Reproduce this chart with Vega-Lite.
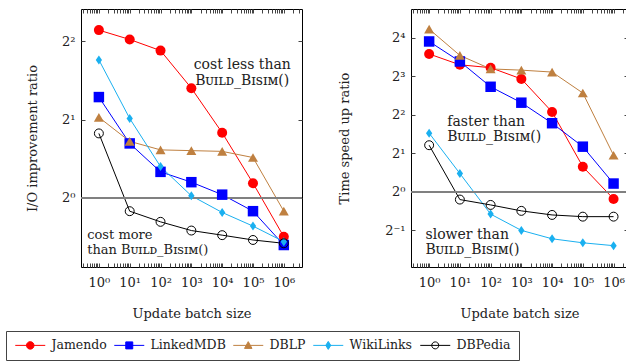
{
  "$schema": "https://vega.github.io/schema/vega-lite/v6.json",
  "padding": {"left": 5, "top": 8, "right": 0, "bottom": 0},
  "config": {
    "font": "DejaVu Serif, Liberation Serif",
    "text": {"font": "DejaVu Serif, Liberation Serif"},
    "view": {"stroke": "#000", "strokeWidth": 1},
    "axis": {"labelFont": "DejaVu Serif, Liberation Serif", "titleFont": "DejaVu Serif, Liberation Serif", "labelFontSize": 13, "titleFontSize": 13, "titleFontWeight": "normal", "labelColor": "#222", "titleColor": "#222", "tickColor": "#444", "domain": false, "grid": false, "tickSize": -4, "labelOverlap": false, "labelFlush": false},
    "legend": {"labelFont": "DejaVu Serif, Liberation Serif", "labelFontSize": 12.5, "labelColor": "#222"}
  },
  "datasets": {
    "io": [
      {"series": "Jamendo", "batch": 1, "ratio": 4.41}, {"series": "Jamendo", "batch": 10, "ratio": 4.06}, {"series": "Jamendo", "batch": 100, "ratio": 3.68}, {"series": "Jamendo", "batch": 1000, "ratio": 2.64}, {"series": "Jamendo", "batch": 10000, "ratio": 1.78}, {"series": "Jamendo", "batch": 100000, "ratio": 1.14}, {"series": "Jamendo", "batch": 1000000, "ratio": 0.71},
      {"series": "LinkedMDB", "batch": 1, "ratio": 2.44}, {"series": "LinkedMDB", "batch": 10, "ratio": 1.62}, {"series": "LinkedMDB", "batch": 100, "ratio": 1.26}, {"series": "LinkedMDB", "batch": 1000, "ratio": 1.15}, {"series": "LinkedMDB", "batch": 10000, "ratio": 1.03}, {"series": "LinkedMDB", "batch": 100000, "ratio": 0.89}, {"series": "LinkedMDB", "batch": 1000000, "ratio": 0.66},
      {"series": "DBLP", "batch": 1, "ratio": 2.04}, {"series": "DBLP", "batch": 10, "ratio": 1.65}, {"series": "DBLP", "batch": 100, "ratio": 1.53}, {"series": "DBLP", "batch": 1000, "ratio": 1.52}, {"series": "DBLP", "batch": 10000, "ratio": 1.51}, {"series": "DBLP", "batch": 100000, "ratio": 1.43}, {"series": "DBLP", "batch": 1000000, "ratio": 0.89},
      {"series": "WikiLinks", "batch": 1, "ratio": 3.39}, {"series": "WikiLinks", "batch": 10, "ratio": 2.02}, {"series": "WikiLinks", "batch": 100, "ratio": 1.32}, {"series": "WikiLinks", "batch": 1000, "ratio": 1.02}, {"series": "WikiLinks", "batch": 10000, "ratio": 0.88}, {"series": "WikiLinks", "batch": 100000, "ratio": 0.78}, {"series": "WikiLinks", "batch": 1000000, "ratio": 0.68},
      {"series": "DBPedia", "batch": 1, "ratio": 1.77}, {"series": "DBPedia", "batch": 10, "ratio": 0.89}, {"series": "DBPedia", "batch": 100, "ratio": 0.81}, {"series": "DBPedia", "batch": 1000, "ratio": 0.75}, {"series": "DBPedia", "batch": 10000, "ratio": 0.72}, {"series": "DBPedia", "batch": 100000, "ratio": 0.69}, {"series": "DBPedia", "batch": 1000000, "ratio": 0.67}
    ],
    "time": [
      {"series": "Jamendo", "batch": 1, "ratio": 11.9}, {"series": "Jamendo", "batch": 10, "ratio": 9.8}, {"series": "Jamendo", "batch": 100, "ratio": 9.3}, {"series": "Jamendo", "batch": 1000, "ratio": 7.6}, {"series": "Jamendo", "batch": 10000, "ratio": 4.2}, {"series": "Jamendo", "batch": 100000, "ratio": 1.57}, {"series": "Jamendo", "batch": 1000000, "ratio": 0.88},
      {"series": "LinkedMDB", "batch": 1, "ratio": 14.9}, {"series": "LinkedMDB", "batch": 10, "ratio": 10.4}, {"series": "LinkedMDB", "batch": 100, "ratio": 6.6}, {"series": "LinkedMDB", "batch": 1000, "ratio": 4.96}, {"series": "LinkedMDB", "batch": 10000, "ratio": 3.43}, {"series": "LinkedMDB", "batch": 100000, "ratio": 2.25}, {"series": "LinkedMDB", "batch": 1000000, "ratio": 1.16},
      {"series": "DBLP", "batch": 1, "ratio": 18.6}, {"series": "DBLP", "batch": 10, "ratio": 11.6}, {"series": "DBLP", "batch": 100, "ratio": 9.1}, {"series": "DBLP", "batch": 1000, "ratio": 8.9}, {"series": "DBLP", "batch": 10000, "ratio": 8.6}, {"series": "DBLP", "batch": 100000, "ratio": 5.9}, {"series": "DBLP", "batch": 1000000, "ratio": 1.93},
      {"series": "WikiLinks", "batch": 1, "ratio": 2.87}, {"series": "WikiLinks", "batch": 10, "ratio": 1.39}, {"series": "WikiLinks", "batch": 100, "ratio": 0.67}, {"series": "WikiLinks", "batch": 1000, "ratio": 0.5}, {"series": "WikiLinks", "batch": 10000, "ratio": 0.43}, {"series": "WikiLinks", "batch": 100000, "ratio": 0.40}, {"series": "WikiLinks", "batch": 1000000, "ratio": 0.38},
      {"series": "DBPedia", "batch": 1, "ratio": 2.31}, {"series": "DBPedia", "batch": 10, "ratio": 0.87}, {"series": "DBPedia", "batch": 100, "ratio": 0.79}, {"series": "DBPedia", "batch": 1000, "ratio": 0.71}, {"series": "DBPedia", "batch": 10000, "ratio": 0.66}, {"series": "DBPedia", "batch": 100000, "ratio": 0.64}, {"series": "DBPedia", "batch": 1000000, "ratio": 0.64}
    ],
    "io_ann_center": [
      {"label": "cost less than", "x": 45000, "y": 3.23},
      {"label": "Bᴜɪʟᴅ_Bɪsɪᴍ()", "x": 45000, "y": 2.81}
    ],
    "io_ann_left": [
      {"label": "cost more", "x": 0.42, "y": 0.72},
      {"label": "than Bᴜɪʟᴅ_Bɪsɪᴍ()", "x": 0.42, "y": 0.63}
    ],
    "time_ann_left": [
      {"label": "faster than", "x": 3.9, "y": 3.53},
      {"label": "Bᴜɪʟᴅ_Bɪsɪᴍ()", "x": 3.9, "y": 2.69},
      {"label": "slower than", "x": 0.76, "y": 0.46},
      {"label": "Bᴜɪʟᴅ_Bɪsɪᴍ()", "x": 0.76, "y": 0.35}
    ]
  },
  "hconcat": [
    {
      "width": 221,
      "height": 258,
      "resolve": {"axis": {"x": "independent", "y": "independent"}},
      "layer": [
        {
          "data": {"name": "io"},
          "mark": {"type": "line", "strokeWidth": 1},
          "encoding": {
            "x": {"field": "batch", "type": "quantitative", "scale": {"type": "log", "domain": [0.263, 3890000], "nice": false},
              "axis": {"orient": "bottom", "title": "Update batch size", "titlePadding": 18, "labelPadding": 13,
                "values": [0.3,0.4,0.5,0.6,0.7,0.8,0.9,1,2,3,4,5,6,7,8,9,10,20,30,40,50,60,70,80,90,100,200,300,400,500,600,700,800,900,1000,2000,3000,4000,5000,6000,7000,8000,9000,10000,20000,30000,40000,50000,60000,70000,80000,90000,100000,200000,300000,400000,500000,600000,700000,800000,900000,1000000,2000000,3000000],
                "labelExpr": "datum.value==1?'10⁰':datum.value==10?'10¹':datum.value==100?'10²':datum.value==1000?'10³':datum.value==10000?'10⁴':datum.value==100000?'10⁵':datum.value==1000000?'10⁶':''"}},
            "y": {"field": "ratio", "type": "quantitative", "scale": {"type": "log", "base": 2, "domain": [0.5434, 5.315], "nice": false},
              "axis": {"orient": "left", "title": "I/O improvement ratio", "values": [1, 2, 4], "labelPadding": 10, "titlePadding": 22,
                "labelExpr": "datum.value==1?'2⁰':datum.value==2?'2¹':'2²'"}},
            "color": {"field": "series", "type": "nominal",
              "scale": {"domain": ["Jamendo", "LinkedMDB", "DBLP", "WikiLinks", "DBPedia"], "range": ["#ff0000", "#0000ff", "#bf8040", "#1ab0f0", "#000000"]},
              "legend": {"orient": "none", "legendX": -75, "legendY": 322, "direction": "horizontal", "title": null, "symbolSize": 100, "symbolStrokeWidth": 1, "symbolOpacity": 1, "labelOffset": 25, "columnPadding": 5, "padding": 8, "strokeColor": "#444"}}
          }
        },
        {
          "data": {"name": "io"},
          "mark": {"type": "rule", "color": "#808080", "strokeWidth": 1},
          "encoding": {"y": {"datum": 1, "axis": null}}
        },
        {
          "data": {"name": "io"},
          "transform": [{"filter": "datum.batch < 0"}],
          "mark": {"type": "point", "filled": false, "strokeWidth": 1, "opacity": 1, "fillOpacity": 1, "strokeOpacity": 1},
          "encoding": {
            "color": {"field": "series", "type": "nominal"},
            "shape": {"field": "series", "type": "nominal", "scale": {"domain": ["Jamendo", "LinkedMDB", "DBLP", "WikiLinks", "DBPedia"], "range": ["M-1,0H5M2.75,0A0.75,0.75,0,1,1,1.25,0A0.75,0.75,0,1,1,2.75,0Z", "M-1,0H5M1.3,-0.7H2.7V0.7H1.3Z", "M-1,0H5M2,-0.75L2.75,0.6H1.25Z", "M-1,0H5M2,-0.8L2.5,0L2,0.8L1.5,0Z", "M-1,0H5M2.7,0A0.7,0.7,0,1,1,1.3,0A0.7,0.7,0,1,1,2.7,0Z"]}},
            "fill": {"field": "series", "type": "nominal", "scale": {"domain": ["Jamendo", "LinkedMDB", "DBLP", "WikiLinks", "DBPedia"], "range": ["#ff0000", "#0000ff", "#bf8040", "#1ab0f0", "transparent"]}}
          }
        },
        {
          "data": {"name": "io"},
          "transform": [{"filter": "datum.series == 'Jamendo'"}],
          "mark": {"type": "point", "shape": "circle", "filled": true, "color": "#ff0000", "size": 100, "opacity": 1},
          "encoding": {"x": {"field": "batch", "type": "quantitative", "axis": null}, "y": {"field": "ratio", "type": "quantitative", "axis": null}}
        },
        {
          "data": {"name": "io"},
          "transform": [{"filter": "datum.series == 'LinkedMDB'"}],
          "mark": {"type": "point", "shape": "square", "filled": true, "color": "#0000ff", "size": 110, "opacity": 1},
          "encoding": {"x": {"field": "batch", "type": "quantitative", "axis": null}, "y": {"field": "ratio", "type": "quantitative", "axis": null}}
        },
        {
          "data": {"name": "io"},
          "transform": [{"filter": "datum.series == 'DBLP'"}],
          "mark": {"type": "point", "shape": "triangle-up", "filled": true, "color": "#bf8040", "size": 100, "opacity": 1},
          "encoding": {"x": {"field": "batch", "type": "quantitative", "axis": null}, "y": {"field": "ratio", "type": "quantitative", "axis": null}}
        },
        {
          "data": {"name": "io"},
          "transform": [{"filter": "datum.series == 'WikiLinks'"}],
          "mark": {"type": "point", "shape": "M0,-1L0.7,0L0,1L-0.7,0Z", "filled": true, "color": "#1ab0f0", "size": 81, "opacity": 1},
          "encoding": {"x": {"field": "batch", "type": "quantitative", "axis": null}, "y": {"field": "ratio", "type": "quantitative", "axis": null}}
        },
        {
          "data": {"name": "io"},
          "transform": [{"filter": "datum.series == 'DBPedia'"}],
          "mark": {"type": "point", "shape": "circle", "filled": false, "color": "#000000", "strokeWidth": 1, "size": 80, "opacity": 1},
          "encoding": {"x": {"field": "batch", "type": "quantitative", "axis": null}, "y": {"field": "ratio", "type": "quantitative", "axis": null}}
        },
        {
          "data": {"name": "io_ann_center"},
          "mark": {"type": "text", "align": "center", "baseline": "middle", "fontSize": 14, "color": "#222"},
          "encoding": {
            "x": {"field": "x", "type": "quantitative", "axis": {"orient": "top", "labels": false, "title": null, "values": [0.3,0.4,0.5,0.6,0.7,0.8,0.9,1,2,3,4,5,6,7,8,9,10,20,30,40,50,60,70,80,90,100,200,300,400,500,600,700,800,900,1000,2000,3000,4000,5000,6000,7000,8000,9000,10000,20000,30000,40000,50000,60000,70000,80000,90000,100000,200000,300000,400000,500000,600000,700000,800000,900000,1000000,2000000,3000000]}},
            "y": {"field": "y", "type": "quantitative", "axis": {"orient": "right", "labels": false, "title": null, "values": [1, 2, 4]}},
            "text": {"field": "label"}
          }
        },
        {
          "data": {"name": "io_ann_left"},
          "mark": {"type": "text", "align": "left", "baseline": "middle", "fontSize": 13, "color": "#222"},
          "encoding": {
            "x": {"field": "x", "type": "quantitative", "axis": null},
            "y": {"field": "y", "type": "quantitative", "axis": null},
            "text": {"field": "label"}
          }
        }
      ]
    },
    {
      "width": 217,
      "height": 258,
      "resolve": {"axis": {"x": "independent", "y": "independent"}},
      "layer": [
        {
          "data": {"name": "time"},
          "mark": {"type": "line", "strokeWidth": 1},
          "encoding": {
            "x": {"field": "batch", "type": "quantitative", "scale": {"type": "log", "domain": [0.257, 2950000], "nice": false},
              "axis": {"orient": "bottom", "title": "Update batch size", "titlePadding": 18, "labelPadding": 13,
                "values": [0.3,0.4,0.5,0.6,0.7,0.8,0.9,1,2,3,4,5,6,7,8,9,10,20,30,40,50,60,70,80,90,100,200,300,400,500,600,700,800,900,1000,2000,3000,4000,5000,6000,7000,8000,9000,10000,20000,30000,40000,50000,60000,70000,80000,90000,100000,200000,300000,400000,500000,600000,700000,800000,900000,1000000,2000000],
                "labelExpr": "datum.value==1?'10⁰':datum.value==10?'10¹':datum.value==100?'10²':datum.value==1000?'10³':datum.value==10000?'10⁴':datum.value==100000?'10⁵':datum.value==1000000?'10⁶':''"}},
            "y": {"field": "ratio", "type": "quantitative", "scale": {"type": "log", "base": 2, "domain": [0.259, 26.7], "nice": false},
              "axis": {"orient": "left", "title": "Time speed up ratio", "values": [0.5, 1, 2, 4, 8, 16], "labelPadding": 10, "titlePadding": 33,
                "labelExpr": "datum.value==0.5?'2⁻¹':datum.value==1?'2⁰':datum.value==2?'2¹':datum.value==4?'2²':datum.value==8?'2³':'2⁴'"}},
            "color": {"field": "series", "type": "nominal"}
          }
        },
        {
          "data": {"name": "time"},
          "mark": {"type": "rule", "color": "#808080", "strokeWidth": 1},
          "encoding": {"y": {"datum": 1, "axis": null}}
        },
        {
          "data": {"name": "time"},
          "transform": [{"filter": "datum.series == 'Jamendo'"}],
          "mark": {"type": "point", "shape": "circle", "filled": true, "color": "#ff0000", "size": 100, "opacity": 1},
          "encoding": {"x": {"field": "batch", "type": "quantitative", "axis": null}, "y": {"field": "ratio", "type": "quantitative", "axis": null}}
        },
        {
          "data": {"name": "time"},
          "transform": [{"filter": "datum.series == 'LinkedMDB'"}],
          "mark": {"type": "point", "shape": "square", "filled": true, "color": "#0000ff", "size": 110, "opacity": 1},
          "encoding": {"x": {"field": "batch", "type": "quantitative", "axis": null}, "y": {"field": "ratio", "type": "quantitative", "axis": null}}
        },
        {
          "data": {"name": "time"},
          "transform": [{"filter": "datum.series == 'DBLP'"}],
          "mark": {"type": "point", "shape": "triangle-up", "filled": true, "color": "#bf8040", "size": 100, "opacity": 1},
          "encoding": {"x": {"field": "batch", "type": "quantitative", "axis": null}, "y": {"field": "ratio", "type": "quantitative", "axis": null}}
        },
        {
          "data": {"name": "time"},
          "transform": [{"filter": "datum.series == 'WikiLinks'"}],
          "mark": {"type": "point", "shape": "M0,-1L0.7,0L0,1L-0.7,0Z", "filled": true, "color": "#1ab0f0", "size": 81, "opacity": 1},
          "encoding": {"x": {"field": "batch", "type": "quantitative", "axis": null}, "y": {"field": "ratio", "type": "quantitative", "axis": null}}
        },
        {
          "data": {"name": "time"},
          "transform": [{"filter": "datum.series == 'DBPedia'"}],
          "mark": {"type": "point", "shape": "circle", "filled": false, "color": "#000000", "strokeWidth": 1, "size": 80, "opacity": 1},
          "encoding": {"x": {"field": "batch", "type": "quantitative", "axis": null}, "y": {"field": "ratio", "type": "quantitative", "axis": null}}
        },
        {
          "data": {"name": "time_ann_left"},
          "mark": {"type": "text", "align": "left", "baseline": "middle", "fontSize": 14, "color": "#222"},
          "encoding": {
            "x": {"field": "x", "type": "quantitative", "axis": {"orient": "top", "labels": false, "title": null, "values": [0.3,0.4,0.5,0.6,0.7,0.8,0.9,1,2,3,4,5,6,7,8,9,10,20,30,40,50,60,70,80,90,100,200,300,400,500,600,700,800,900,1000,2000,3000,4000,5000,6000,7000,8000,9000,10000,20000,30000,40000,50000,60000,70000,80000,90000,100000,200000,300000,400000,500000,600000,700000,800000,900000,1000000,2000000]}},
            "y": {"field": "y", "type": "quantitative", "axis": {"orient": "right", "labels": false, "title": null, "values": [0.5, 1, 2, 4, 8, 16]}},
            "text": {"field": "label"}
          }
        }
      ]
    }
  ],
  "spacing": 35,
  "resolve": {"scale": {"x": "independent", "y": "independent", "color": "shared", "shape": "shared", "fill": "shared"}}
}
